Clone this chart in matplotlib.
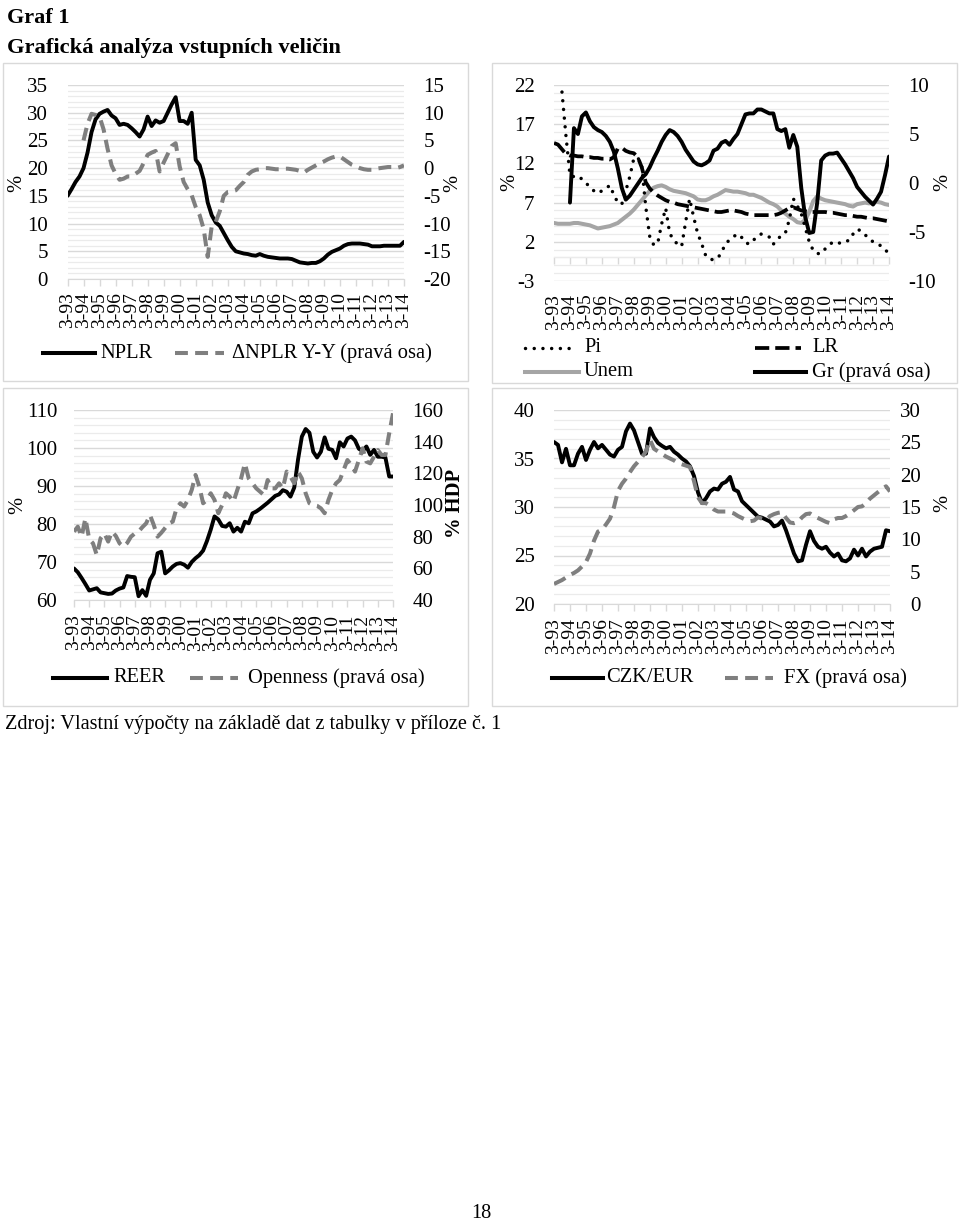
import matplotlib
matplotlib.use('Agg')
import matplotlib.pyplot as plt
from matplotlib.lines import Line2D
from matplotlib.patches import Rectangle
import numpy as np

plt.rcParams['font.family'] = ['Liberation Serif', 'DejaVu Serif']
plt.rcParams['axes.unicode_minus'] = False

NAN = float('nan')

# ---------------- data (quarterly, 3-93 .. 3-14) ----------------
xlabels = ['3-93', '3-94', '3-95', '3-96', '3-97', '3-98', '3-99', '3-00', '3-01', '3-02', '3-03',
           '3-04', '3-05', '3-06', '3-07', '3-08', '3-09', '3-10', '3-11', '3-12', '3-13', '3-14']

nplr = [15.0, 16.2, 17.5, 18.5, 20.0, 22.8, 26.5, 28.8, 29.8, 30.2, 30.5, 29.5, 29.0, 27.8, 28.0, 27.8,
        27.2, 26.5, 25.7, 27.0, 29.3, 27.6, 28.6, 28.2, 28.5, 30.0, 31.5, 32.8, 28.5, 28.5, 28.0, 30.0,
        21.5, 20.5, 17.9, 13.8, 11.5, 10.2, 9.6, 8.3, 7.0, 5.8, 5.0, 4.8, 4.6, 4.5, 4.3, 4.2,
        4.5, 4.2, 4.0, 3.9, 3.8, 3.7, 3.7, 3.7, 3.6, 3.3, 3.0, 2.9, 2.8, 2.9, 2.9, 3.2,
        3.7, 4.4, 4.9, 5.2, 5.5, 6.0, 6.3, 6.4, 6.4, 6.4, 6.3, 6.2, 5.9, 5.9, 5.9, 6.0,
        6.0, 6.0, 6.0, 6.0, 6.7]
d_nplr = [NAN, NAN, NAN, NAN, 5.0, 8.0, 9.8, 9.6, 9.3, 7.0, 3.5, 0.5, -1.0, -2.1, -1.9, -1.5,
          -1.5, -1.0, -0.5, 0.9, 2.4, 2.8, 3.1, -0.6, 1.0, 2.5, 4.0, 4.5, 0.3, -2.5, -3.8, -4.9,
          -7.0, -8.5, -11.0, -16.0, -10.5, -9.7, -7.8, -5.0, -4.3, -4.2, -4.0, -3.2, -2.5, -1.2, -0.6, -0.3,
          -0.2, 0.0, 0.0, -0.1, -0.2, -0.2, -0.1, -0.1, -0.2, -0.3, -0.5, -0.8, -0.3, 0.1, 0.5, 0.9,
          1.2, 1.6, 1.9, 2.1, 2.1, 1.6, 1.1, 0.6, 0.3, 0.0, -0.2, -0.3, -0.3, -0.1, 0.0, 0.1,
          0.2, 0.2, 0.0, 0.2, 0.5]

pi = [NAN, NAN, 21.1, 15.5, 10.5, 10.3, 10.4, 10.0, 9.5, 9.0, 8.5, 8.2, 8.5, 8.8, 9.2, 8.0,
      7.0, 6.8, 8.5, 10.3, 12.6, 12.8, 11.6, 6.5, 2.7, 1.6, 1.8, 4.3, 6.3, 3.1, 2.2, 1.7,
      1.4, 4.5, 7.5, 5.2, 3.1, 1.8, 0.3, -0.2, -0.3, -0.1, 0.6, 1.8, 2.2, 2.65, 3.0, 2.6,
      1.9, 1.7, 2.2, 2.7, 3.0, 2.8, 2.6, 1.7, 2.3, 2.8, 3.1, 4.8, 7.5, 6.6, 5.6, 3.8,
      2.0, 0.9, 0.5, 0.5, 1.1, 1.6, 2.0, 1.9, 1.8, 2.0, 2.2, 3.0, 3.6, 3.4, 2.9, 2.4,
      2.0, 1.7, 1.5, 1.0, 0.5]
lr = [14.6, 14.4, 13.8, 13.2, 13.0, 13.0, 12.9, 12.9, 12.8, 12.8, 12.7, 12.7, 12.6, 12.6, 12.5, 12.8,
      13.9, 14.0, 13.6, 13.4, 13.3, 12.8, 11.5, 9.6, 8.8, 8.3, 7.9, 7.6, 7.3, 7.1, 7.0, 6.8,
      6.7, 6.6, 6.5, 6.4, 6.3, 6.2, 6.1, 6.0, 5.9, 5.8, 5.8, 5.9, 6.0, 6.0, 5.9, 5.8,
      5.6, 5.5, 5.4, 5.4, 5.4, 5.4, 5.4, 5.4, 5.5, 5.7, 6.0, 6.3, 6.4, 6.2, 6.0, 5.9,
      5.8, 5.8, 5.8, 5.8, 5.8, 5.7, 5.7, 5.6, 5.5, 5.4, 5.4, 5.3, 5.2, 5.2, 5.1, 5.0,
      5.0, 4.9, 4.8, 4.7, 4.6]
unem = [4.4, 4.3, 4.3, 4.3, 4.3, 4.4, 4.4, 4.3, 4.2, 4.1, 3.9, 3.7, 3.8, 3.9, 4.0, 4.2,
        4.4, 4.8, 5.2, 5.6, 6.1, 6.7, 7.3, 7.9, 8.5, 8.9, 9.1, 9.2, 9.0, 8.7, 8.5, 8.4,
        8.3, 8.2, 8.0, 7.8, 7.4, 7.3, 7.3, 7.5, 7.8, 8.0, 8.3, 8.6, 8.5, 8.4, 8.4, 8.3,
        8.2, 8.0, 8.0, 7.8, 7.6, 7.3, 7.0, 6.8, 6.5, 6.0, 5.6, 5.2, 4.9, 4.5, 4.4, 4.8,
        5.8, 7.2, 7.8, 7.5, 7.3, 7.2, 7.1, 7.0, 6.9, 6.8, 6.6, 6.5, 6.8, 6.9, 7.0, 6.9,
        7.0, 7.1, 7.0, 6.8, 6.7]
gr = [NAN, NAN, NAN, NAN, -2.0, 5.6, 5.0, 6.8, 7.2, 6.3, 5.7, 5.4, 5.2, 4.8, 4.2, 3.2,
      1.5, -0.5, -1.7, -1.3, -0.7, -0.1, 0.5, 0.9, 1.6, 2.5, 3.3, 4.2, 4.9, 5.4, 5.2, 4.8,
      4.2, 3.4, 2.8, 2.2, 1.9, 1.8, 2.0, 2.3, 3.3, 3.5, 4.1, 4.3, 3.9, 4.5, 5.0, 6.0,
      7.0, 7.1, 7.1, 7.5, 7.5, 7.3, 7.1, 7.1, 5.5, 5.3, 5.5, 3.6, 4.9, 3.7, -0.5, -3.5,
      -5.1, -5.0, -2.0, 2.3, 2.8, 3.0, 3.0, 3.1, 2.5, 1.9, 1.2, 0.5, -0.4, -0.9, -1.4, -1.8,
      -2.2, -1.6, -0.9, 0.8, 2.7]

reer = [68.3, 67.3, 65.8, 64.2, 62.5, 62.8, 63.1, 62.0, 61.8, 61.6, 61.7, 62.5, 63.0, 63.3, 66.3, 66.1,
        66.0, 61.0, 62.6, 61.1, 65.3, 67.0, 72.3, 72.7, 67.0, 67.8, 68.8, 69.5, 69.7, 69.3, 68.5, 70.0,
        71.0, 71.8, 73.0, 75.5, 78.5, 82.0, 81.2, 79.5, 79.3, 80.2, 78.0, 79.0, 78.0, 80.6, 80.2, 82.8,
        83.3, 84.0, 84.8, 85.6, 86.5, 87.4, 87.8, 88.9, 88.5, 87.2, 89.6, 97.0, 103.0, 105.0, 104.0, 99.0,
        97.5, 99.0, 102.8, 99.8, 99.5, 97.3, 101.5, 100.4, 102.5, 103.0, 102.0, 99.8, 99.2, 100.4, 98.2, 99.5,
        97.7, 97.7, 97.5, 92.5, 92.5]
openness = [83.2, 86.3, 80.0, 91.6, 78.5, 75.8, 68.4, 79.0, 82.1, 76.9, 83.2, 80.5, 75.8, 73.7, 76.0, 80.0,
            82.0, 83.2, 86.0, 88.4, 93.7, 87.4, 80.0, 82.5, 85.5, 88.4, 89.5, 97.9, 101.1, 99.0, 103.2, 109.5,
            119.0, 111.6, 101.1, 103.2, 107.4, 103.2, 94.8, 100.0, 107.4, 105.3, 102.1, 109.5, 116.8, 126.3, 116.8, 113.7,
            110.5, 108.4, 106.3, 115.8, 110.5, 110.5, 113.7, 110.5, 121.1, 117.9, 113.7, 121.1, 116.8, 107.4, 101.1, 100.0,
            99.5, 97.9, 94.8, 103.2, 109.5, 113.7, 115.8, 122.1, 128.4, 125.3, 121.1, 128.4, 135.8, 127.4, 126.3, 130.5,
            134.7, 131.6, 131.6, 145.3, 157.9]

czk = [36.7, 36.4, 34.6, 36.0, 34.3, 34.3, 35.5, 36.2, 34.85, 35.9, 36.7, 36.05, 36.4, 35.9, 35.4, 35.2,
       35.9, 36.2, 37.8, 38.6, 37.9, 36.7, 35.5, 35.5, 38.1, 37.2, 36.6, 36.3, 36.05, 36.2, 35.7, 35.4,
       35.0, 34.7, 34.2, 33.2, 31.5, 30.4, 30.9, 31.6, 31.9, 31.8, 32.4, 32.6, 33.1, 31.8, 31.6, 30.6,
       30.2, 29.8, 29.4, 29.0, 28.9, 28.7, 28.5, 28.0, 28.15, 28.6, 27.6, 26.4, 25.2, 24.4, 24.5, 26.1,
       27.5, 26.5, 25.9, 25.7, 25.9, 25.3, 24.9, 25.2, 24.5, 24.4, 24.7, 25.6, 25.0, 25.7, 24.9, 25.4,
       25.7, 25.8, 25.9, 27.6, 27.5]
fx_res = [3.1, 3.4, 3.7, 4.1, 4.5, 4.8, 5.2, 5.8, 6.5, 7.8, 9.8, 11.2, 11.5, 12.3, 13.2, 15.0,
          17.5, 18.6, 19.4, 20.4, 21.3, 22.0, 22.7, 23.6, 25.4, 24.0, 23.6, 23.2, 22.8, 22.5, 22.2, 21.8,
          21.6, 21.4, 21.2, 19.0, 16.5, 15.6, 15.6, 15.2, 14.6, 14.3, 14.3, 14.3, 14.2, 14.0, 13.6, 13.3,
          13.0, 12.8, 12.9, 13.4, 13.2, 13.0, 13.6, 13.9, 14.1, 14.2, 13.3, 12.6, 12.5, 12.7, 13.4, 13.9,
          14.0, 13.6, 13.3, 13.0, 12.7, 12.5, 13.1, 13.3, 13.3, 13.6, 14.0, 14.5, 15.0, 15.1, 15.6, 16.3,
          16.8, 17.3, 17.8, 18.2, 17.4]

# ---------------- layout helpers ----------------
W, H = 960, 1224
fig = plt.figure(figsize=(W / 100, H / 100), dpi=100)
FS = 15          # y tick labels
XFS = 14         # x tick labels
LFS = 14.8       # legend / axis titles
GRID_MAJ = '#d9d9d9'
GRID_MIN = '#ebebeb'
DGRAY = '#7f7f7f'
LGRAY = '#a5a5a5'
GDASH = (0, (3.2, 1.8))

q = np.arange(85)


def add_ax(x0, y0, x1, y1):
    return fig.add_axes([x0 / W, 1 - y1 / H, (x1 - x0) / W, (y1 - y0) / H])


def box(x0, y0, x1, y1):
    fig.add_artist(Rectangle((x0 / W, 1 - y1 / H), (x1 - x0) / W, (y1 - y0) / H,
                             transform=fig.transFigure, fill=False, edgecolor='#d9d9d9', lw=1.0))


def ftext(x, y, s, **kw):
    fig.text(x / W, 1 - y / H, s, **kw)


def legline(x0, x1, y, **kw):
    fig.add_artist(Line2D([x0 / W, x1 / W], [1 - y / H, 1 - y / H], transform=fig.transFigure, **kw))


def setup(ax, ax2, ylim, yticks, yminor, ylim2, yticks2, axis_frac=0.0, lpad=14, rpad=14, xpad=4.6,
          right_align=False):
    ax.set_xlim(0, 84)
    ax.set_ylim(*ylim)
    ax.set_yticks(yticks)
    ax.set_yticks(yminor, minor=True)
    ax.grid(axis='y', which='major', color=GRID_MAJ, lw=1.0)
    ax.grid(axis='y', which='minor', color=GRID_MIN, lw=0.9)
    ax.set_axisbelow(True)
    ax.patch.set_visible(False)
    for s in ax.spines.values():
        s.set_visible(False)
    for s in ax2.spines.values():
        s.set_visible(False)
    ax.tick_params(axis='y', which='both', length=0, labelsize=FS, pad=lpad)
    ax2.set_ylim(*ylim2)
    ax2.set_yticks(yticks2)
    ax2.tick_params(axis='y', which='both', length=0, labelsize=FS, pad=rpad)
    if right_align:
        for t in ax2.get_yticklabels():
            t.set_horizontalalignment('right')
    ax.set_xticks(range(0, 85, 4))
    ax.set_xticklabels(xlabels, rotation=90, fontsize=XFS)
    if axis_frac == 0.0:
        ax.spines['bottom'].set_visible(True)
        ax.spines['bottom'].set_color(GRID_MAJ)
        ax.tick_params(axis='x', length=5, width=1, color=GRID_MAJ, direction='out', pad=xpad)
    else:
        ax.tick_params(axis='x', length=0, pad=xpad + 3.6)
        sec = ax.secondary_xaxis(axis_frac)
        sec.set_xticks(range(0, 85, 4))
        sec.set_xticklabels([])
        sec.spines['bottom'].set_color(GRID_MAJ)
        sec.tick_params(axis='x', length=5, width=1, color=GRID_MAJ, direction='out')


black_kw = dict(color='black', lw=2.8, solid_capstyle='round', solid_joinstyle='round')
gdash_kw = dict(color=DGRAY, lw=2.9, linestyle=GDASH, dash_joinstyle='round')

# ---------------- title ----------------
ftext(7, 18, 'Graf 1', fontsize=16, fontweight='bold', va='center', ha='left')
ftext(7, 48, 'Grafická analýza vstupních veličin', fontsize=16.2, fontweight='bold', va='center', ha='left')

# ---------------- panel 1 ----------------
box(3, 63, 468, 381)
ax = add_ax(67.5, 85, 404, 279)
ax2 = ax.twinx()
ax.plot(q, nplr, **black_kw)
ax2.plot(q, d_nplr, **gdash_kw)
setup(ax, ax2, (0, 35), range(0, 36, 5), range(0, 36, 1), (-20, 15), range(-20, 16, 5))
ftext(17, 183, '%', fontsize=LFS, rotation=90, va='center', ha='center')
ftext(453, 183, '%', fontsize=LFS, rotation=90, va='center', ha='center')
legline(43, 95, 353, color='black', lw=2.9)
ftext(100, 353, 'NPLR', fontsize=LFS, va='center', ha='left')
legline(175, 224, 353, color=DGRAY, lw=2.9, linestyle=GDASH)
ftext(232, 353, 'ΔNPLR Y-Y (pravá osa)', fontsize=LFS, va='center', ha='left')

# ---------------- panel 2 ----------------
box(492, 63, 957, 383)
ax = add_ax(554, 85, 889, 281)
ax2 = ax.twinx()
ax.plot(q, unem, color=LGRAY, lw=2.9, solid_joinstyle='round')
ax.plot(q, lr, color='black', lw=2.7, linestyle=(0, (3.8, 1.6)))
ax.plot(q, pi, color='black', lw=2.5, linestyle=(0, (0.01, 2.5)), dash_capstyle='round')
ax2.plot(q, gr, **black_kw)
setup(ax, ax2, (-3, 22), range(-3, 23, 5), range(-3, 23, 1), (-10, 10), range(-10, 11, 5),
      axis_frac=3 / 25, xpad=5.5)
ftext(510, 182, '%', fontsize=LFS, rotation=90, va='center', ha='center')
ftext(943, 182, '%', fontsize=LFS, rotation=90, va='center', ha='center')
legline(525, 572, 348, color='black', lw=2.5, linestyle=(0, (0.01, 2.5)), dash_capstyle='round')
ftext(584, 348, 'Pi', fontsize=LFS, va='center', ha='left')
legline(755, 801, 348, color='black', lw=2.7, linestyle=(0, (3.8, 1.6)))
ftext(812, 348, 'LR', fontsize=LFS, va='center', ha='left')
legline(525, 579, 372, color=LGRAY, lw=2.9)
ftext(584, 372, 'Unem', fontsize=LFS, va='center', ha='left')
legline(755, 806, 372, color='black', lw=2.9)
ftext(812, 372, 'Gr (pravá osa)', fontsize=LFS, va='center', ha='left')

# ---------------- panel 3 ----------------
box(3, 388, 468, 706)
ax = add_ax(74, 410, 393, 600)
ax2 = ax.twinx()
ax.plot(q, reer, **black_kw)
ax2.plot(q, openness, **gdash_kw)
setup(ax, ax2, (60, 110), range(60, 111, 10), range(60, 111, 2), (40, 160), range(40, 161, 20),
      lpad=12, xpad=5.5)
ftext(18, 505, '%', fontsize=LFS, rotation=90, va='center', ha='center')
ftext(455, 503, '% HDP', fontsize=LFS, fontweight='bold', rotation=90, va='center', ha='center')
legline(53, 107, 678, color='black', lw=2.9)
ftext(113, 678, 'REER', fontsize=LFS, va='center', ha='left')
legline(190, 238, 678, color=DGRAY, lw=2.9, linestyle=GDASH)
ftext(248, 678, 'Openness (pravá osa)', fontsize=LFS, va='center', ha='left')

# ---------------- panel 4 ----------------
box(492, 388, 957, 706)
ax = add_ax(554, 410, 890, 604)
ax2 = ax.twinx()
ax.plot(q, czk, **black_kw)
ax2.plot(q, fx_res, **gdash_kw)
setup(ax, ax2, (20, 40), range(20, 41, 5), range(20, 41, 1), (0, 30), range(0, 31, 5), rpad=22,
      right_align=True, xpad=5.2)
ftext(943, 503, '%', fontsize=LFS, rotation=90, va='center', ha='center')
legline(552, 603, 678, color='black', lw=2.9)
ftext(606, 678, 'CZK/EUR', fontsize=LFS, va='center', ha='left')
legline(725, 773, 678, color=DGRAY, lw=2.9, linestyle=GDASH)
ftext(784, 678, 'FX (pravá osa)', fontsize=LFS, va='center', ha='left')

# ---------------- footer ----------------
ftext(5, 725, 'Zdroj: Vlastní výpočty na základě dat z tabulky v příloze č. 1', fontsize=14.6,
      va='center', ha='left')
ftext(481, 1213, '18', fontsize=14.6, va='center', ha='center')

fig.savefig('out.png', dpi=100)
